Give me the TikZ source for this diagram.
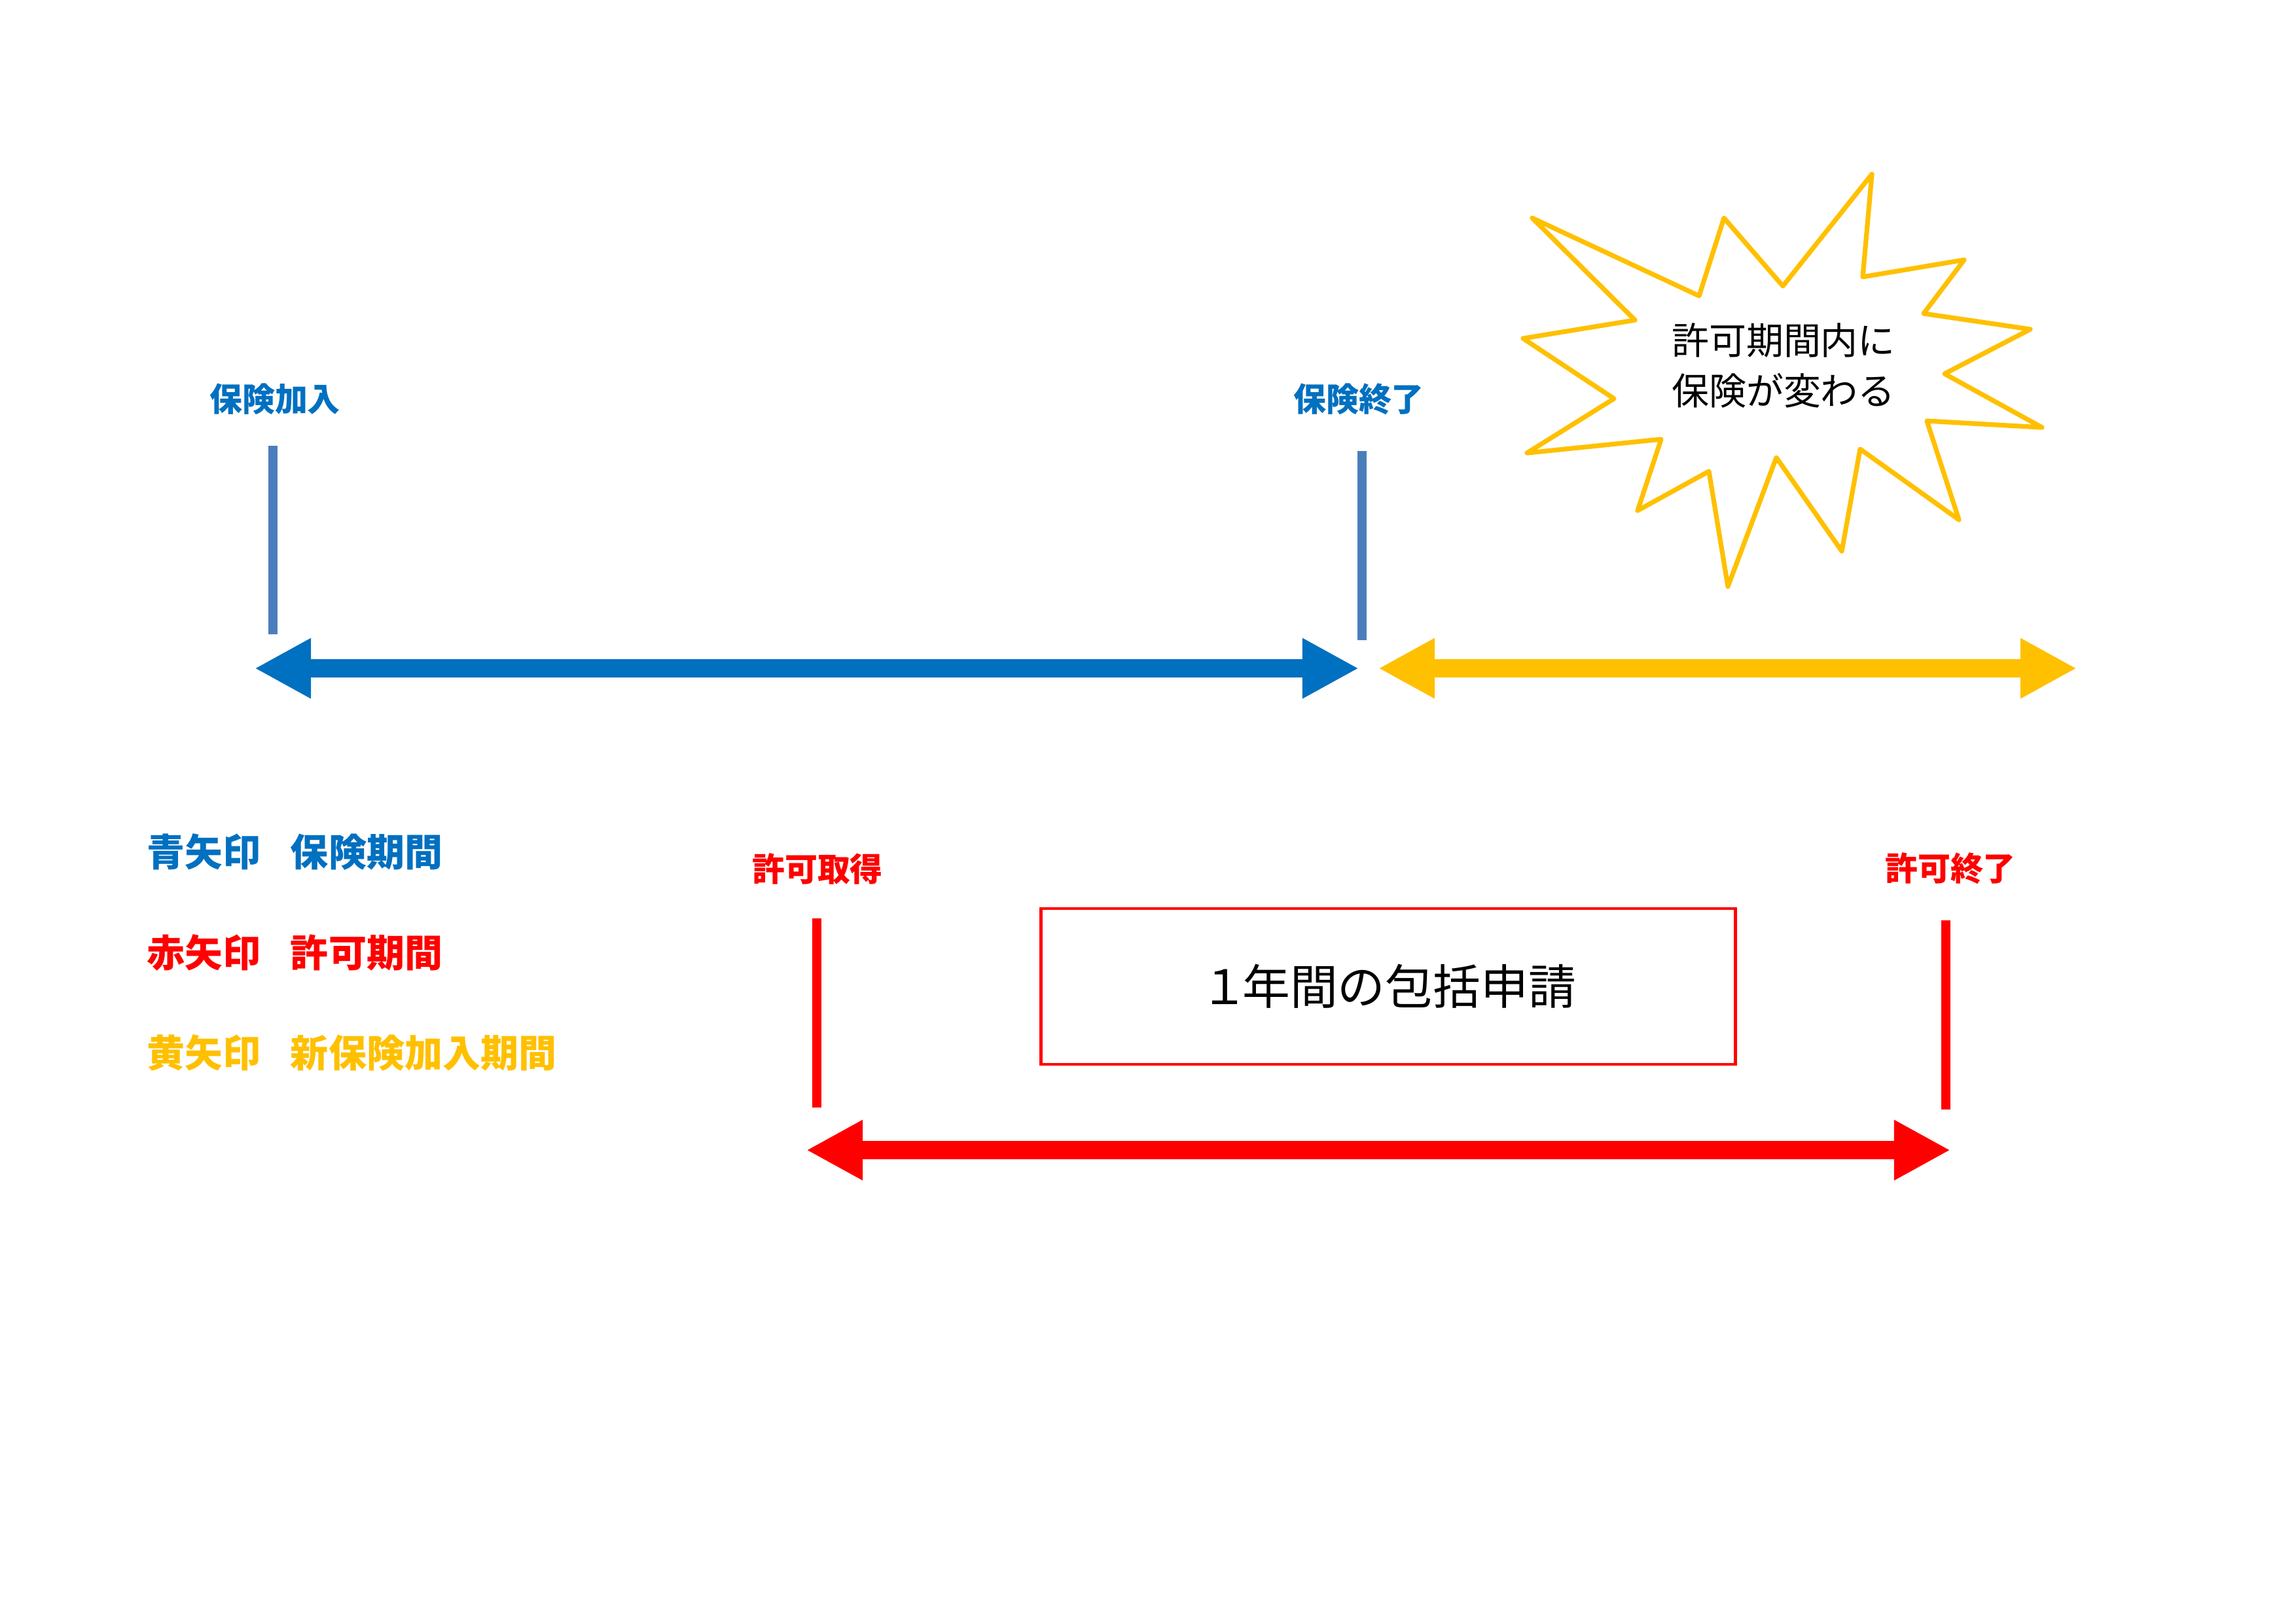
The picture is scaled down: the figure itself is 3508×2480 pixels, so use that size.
\documentclass[tikz,border=0pt]{standalone}
\usepackage{fontspec}
\newfontfamily\jp{Noto Sans CJK JP}
\usetikzlibrary{arrows.meta}
\definecolor{ablue}{HTML}{0070C0}
\definecolor{tblue}{HTML}{4A7EBB}
\definecolor{ared}{HTML}{FF0000}
\definecolor{ayel}{HTML}{FFC000}
\tikzset{
  lbl/.style={font=\jp\bfseries\fontsize{14.2pt}{16pt}\selectfont, inner sep=0pt},
  legend/.style={font=\jp\bfseries\fontsize{16.5pt}{18pt}\selectfont, inner sep=0pt, anchor=west},
  tick/.style={line width=0.135cm},
  period/.style={line width=0.285cm, {Triangle[length=0.86cm,width=0.86cm]}-{Triangle[length=0.86cm,width=0.86cm]}},
}
\newcommand{\lgap}{\hspace{0.78em}}
\begin{document}
\begin{tikzpicture}[x=0.01cm,y=-0.01cm]
\useasboundingbox[fill=white] (0,0) rectangle (3508,2480);

% blue period
\node[lbl, text=ablue] (insStart) at (420,610) {保険加入};
\node[lbl, text=ablue] (insEnd) at (2076,610) {保険終了};
\coordinate (t1a) at (417,681); \coordinate (t1b) at (417,969);
\coordinate (t2a) at (2081,689); \coordinate (t2b) at (2081,978);
\draw[tick, tblue] (t1a) -- (t1b);
\draw[tick, tblue] (t2a) -- (t2b);
\coordinate (bL) at (389,1021); \coordinate (bR) at (2076,1021);
\draw[period, ablue] (bL) -- (bR);

% yellow period
\coordinate (yL) at (2106,1021); \coordinate (yR) at (3173,1021);
\draw[period, ayel] (yL) -- (yR);

% starburst
\draw[ayel, line width=0.072cm, line join=round, fill=white]
  (2860,266) -- (2846,423) -- (3001,397) -- (2939,479) -- (3102,503) -- (2971,571)
  -- (3120,653) -- (2944,643) -- (2993,794) -- (2842,686) -- (2814,842) -- (2714,699)
  -- (2640,896) -- (2611,720) -- (2502,780) -- (2538,671) -- (2333,692) -- (2466,609)
  -- (2327,517) -- (2498,489) -- (2341,333) -- (2596,452) -- (2634,333) -- (2724,437) -- cycle;
\node[font=\jp\fontsize{16.2pt}{21.9pt}\selectfont, align=center, inner sep=0pt] (burst) at (2725,558) {許可期間内に\\保険が変わる};

% red period
\node[lbl, text=ared] (perStart) at (1249,1327) {許可取得};
\node[lbl, text=ared] (perEnd) at (2980,1327) {許可終了};
\coordinate (r1a) at (1248,1403); \coordinate (r1b) at (1248,1692);
\coordinate (r2a) at (2973,1406); \coordinate (r2b) at (2973,1695);
\draw[tick, ared] (r1a) -- (r1b);
\draw[tick, ared] (r2a) -- (r2b);
\coordinate (rL) at (1232,1757); \coordinate (rR) at (2980,1757);
\draw[period, ared] (rL) -- (rR);

% box
\node[draw=ared, line width=0.045cm, minimum width=10.6cm, minimum height=2.38cm, inner sep=0pt,
      font=\jp\fontsize{20.7pt}{24pt}\selectfont] (box) at (2121,1507) {１\hspace{-0.12em}年間の包括申請};

% legend
\node[legend, text=ablue] (legB) at (224,1301) {青矢印\lgap 保険期間};
\node[legend, text=ared] (legR) at (224,1455) {赤矢印\lgap 許可期間};
\node[legend, text=ayel] (legY) at (224,1608) {黄矢印\lgap 新保険加入期間};
\end{tikzpicture}
\end{document}
